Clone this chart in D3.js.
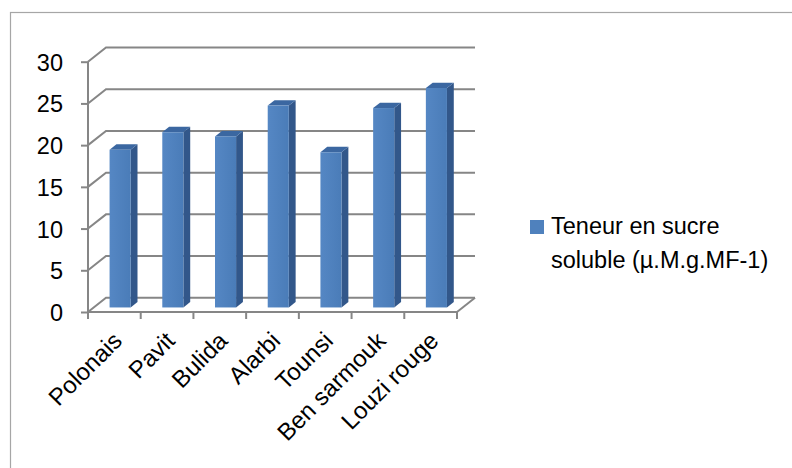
<!DOCTYPE html>
<html>
<head>
<meta charset="utf-8">
<script src="https://cdn.jsdelivr.net/npm/d3@7"></script>
<style>
  html, body { margin: 0; padding: 0; background: #fff; }
  svg { display: block; font-family: "Liberation Sans", Arial, sans-serif; }
</style>
</head>
<body>
<svg id="chart" width="792" height="468"></svg>
<script>
// Soluble sugar content per variety
const categories = ["Polonais", "Pavit", "Bulida", "Alarbi", "Tounsi", "Ben sarmouk", "Louzi rouge"];
const sugarValues = [18.9, 21.0, 20.5, 24.2, 18.6, 23.9, 26.3];
const yTicks = [0, 5, 10, 15, 20, 25, 30];
const seriesName = ["Teneur en sucre", "soluble (\u00b5.M.g.MF-1)"];

const svg = d3.select("#chart");

// outer frame of the chart area
svg.append("rect")
  .attr("x", 10.5).attr("y", 12.5)
  .attr("width", 900).attr("height", 600)
  .attr("fill", "none").attr("stroke", "#a6a6a6").attr("stroke-width", 1.2);

// plot geometry (front plane) and the oblique depth vector of the 3-D box
const plotLeft = 88, plotRight = 457, plotBottom = 312, plotTop = 61.7;
const depth = { dx: 18, dy: -14.2 };
const barFront = 0.32, barBack = 0.70;

const x = d3.scaleBand().domain(categories).range([plotLeft, plotRight])
  .paddingInner(0.6).paddingOuter(0.3);
const y = d3.scaleLinear().domain([0, 30]).range([plotBottom, plotTop]);

const gridColor = "#868686";

// walls: left wall diagonals and back wall gridlines
const grid = svg.append("g").attr("fill", "none").attr("stroke", gridColor).attr("stroke-width", 2);
yTicks.forEach(t => {
  const yy = y(t);
  grid.append("path").attr("d", d3.line()([
    [plotLeft, yy],
    [plotLeft + depth.dx, yy + depth.dy],
    [plotRight + depth.dx, yy + depth.dy]
  ]));
});
// floor right edge
grid.append("path").attr("d", d3.line()([
  [plotRight, plotBottom], [plotRight + depth.dx, plotBottom + depth.dy]
]));

// value axis on the front plane
const yAxis = svg.append("g")
  .attr("transform", `translate(${plotLeft},0)`)
  .call(d3.axisLeft(y).tickValues(yTicks).tickSize(7).tickPadding(18).tickSizeOuter(0));
yAxis.select(".domain").attr("stroke", gridColor).attr("stroke-width", 2)
  .attr("d", `M0,${plotBottom + 7}V${plotTop}`);
yAxis.selectAll(".tick line").attr("stroke", gridColor).attr("stroke-width", 2);
yAxis.selectAll(".tick text")
  .attr("fill", "#000").attr("font-size", 23.5).attr("dy", "0.36em")
  .attr("font-family", "Liberation Sans, Arial, sans-serif");

// category axis along the front edge of the floor
const step = x.step();
const boundaries = categories.map(c => x(c) - step * x.paddingInner() / 2 + step);
boundaries.unshift(plotLeft);
const xAxis = svg.append("g");
xAxis.append("path")
  .attr("d", `M${plotLeft},${plotBottom}H${plotRight}`)
  .attr("stroke", gridColor).attr("stroke-width", 2).attr("fill", "none");
xAxis.selectAll("line.tk").data(boundaries).join("line")
  .attr("class", "tk")
  .attr("x1", d => d).attr("x2", d => d)
  .attr("y1", plotBottom).attr("y2", plotBottom + 7)
  .attr("stroke", gridColor).attr("stroke-width", 2);

xAxis.selectAll("text").data(categories).join("text")
  .attr("text-anchor", "end")
  .attr("font-size", 24)
  .attr("fill", "#000")
  .attr("dy", "0.72em")
  .attr("transform", d => `translate(${x(d) + x.bandwidth() / 2 - 3},${plotBottom + 18}) rotate(-45)`)
  .text(d => d);

// 3-D columns
const data = categories.map((c, i) => ({ cat: c, value: sugarValues[i] }));
const bars = svg.append("g");
const fx = barFront * depth.dx, fy = barFront * depth.dy;
const sx = (barBack - barFront) * depth.dx, sy = (barBack - barFront) * depth.dy;

const defs = svg.append("defs");
const grad = defs.append("linearGradient").attr("id", "front").attr("x1", 0).attr("x2", 1).attr("y1", 0).attr("y2", 0);
grad.append("stop").attr("offset", 0).attr("stop-color", "#5587c4");
grad.append("stop").attr("offset", 1).attr("stop-color", "#4a7cb8");

data.forEach(d => {
  const x0 = x(d.cat) + fx, x1 = x0 + x.bandwidth();
  const yTop = y(d.value) + fy, yBot = y(0) + fy;
  const g = bars.append("g");
  // side face
  g.append("path").attr("fill", "#32578a")
    .attr("d", d3.line()([[x1, yTop], [x1 + sx, yTop + sy], [x1 + sx, yBot + sy], [x1, yBot]]) + "Z");
  // top face
  g.append("path").attr("fill", "#3b67a1")
    .attr("d", d3.line()([[x0, yTop], [x0 + sx, yTop + sy], [x1 + sx, yTop + sy], [x1, yTop]]) + "Z");
  // front face
  g.append("rect").attr("fill", "url(#front)")
    .attr("x", x0).attr("y", yTop).attr("width", x1 - x0).attr("height", yBot - yTop);
});

// legend
const legend = svg.append("g");
legend.append("rect").attr("x", 530).attr("y", 220).attr("width", 14).attr("height", 14).attr("fill", "#4f81bd");
legend.selectAll("text").data(seriesName).join("text")
  .attr("x", 551).attr("y", (d, i) => 234 + i * 34)
  .attr("font-size", 23.5).attr("fill", "#000")
  .text(d => d);
</script>
</body>
</html>
